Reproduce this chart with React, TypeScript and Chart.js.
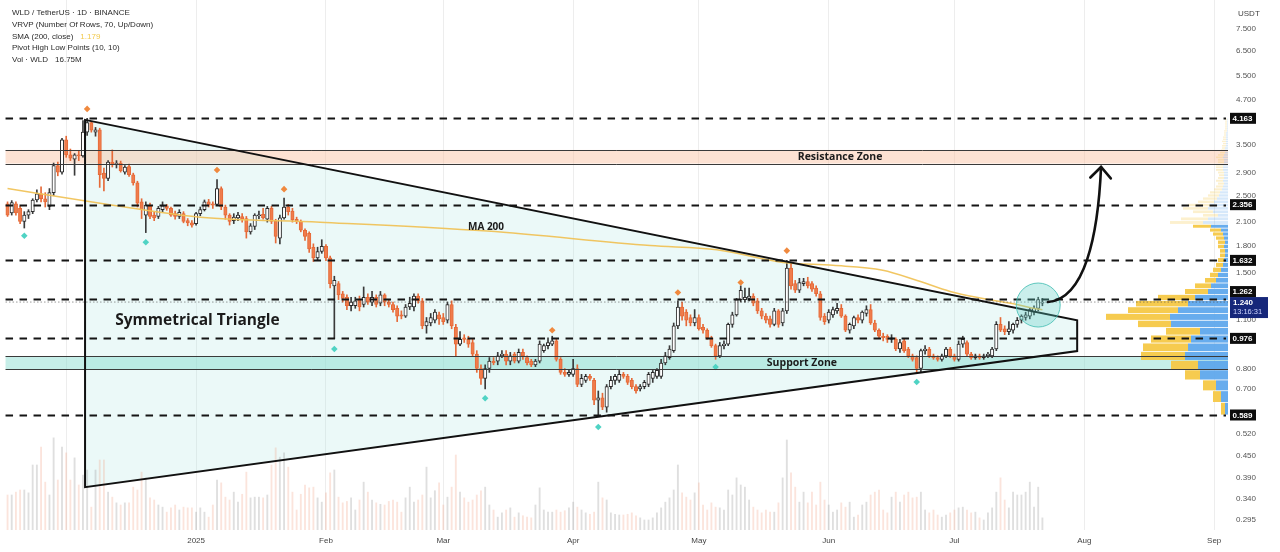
import React, { useEffect, useRef } from "react";
import { Chart, registerables } from "chart.js";

Chart.register(...registerables);

// ---------- DATA ----------
// day index relative to 1 Jan 2025; first candle = 17 Nov 2024
const START_DAY = -45;

// [open, high, low, close] per daily candle (WLD/USDT)
const OHLC: [number, number, number, number][] = [
  [2.37,2.40,2.18,2.20],[2.23,2.42,2.20,2.39],[2.37,2.40,2.20,2.23],[2.30,2.33,2.08,2.11],[2.11,2.25,2.02,2.20],[2.20,2.28,2.15,2.25],[2.25,2.45,2.22,2.43],[2.43,2.60,2.40,2.53],[2.53,2.65,2.40,2.45],[2.45,2.55,2.32,2.40],
  [2.33,2.62,2.28,2.55],[2.55,3.10,2.50,3.05],[3.05,3.12,2.85,2.92],[2.92,3.65,2.88,3.61],[3.61,3.70,3.22,3.27],[3.27,3.40,3.15,3.20],[3.18,3.30,2.86,3.27],[3.27,3.35,3.15,3.25],[3.25,4.10,3.22,3.80],[3.80,4.163,3.72,4.05],
  [4.05,4.08,3.80,3.85],[3.80,3.92,3.70,3.86],[3.86,3.90,2.64,2.87],[2.90,3.00,2.58,2.80],[2.80,3.15,2.76,3.12],[3.12,3.38,3.02,3.08],[3.08,3.15,3.00,3.10],[3.10,3.14,2.92,2.95],[2.92,3.05,2.88,3.02],[3.03,3.08,2.84,2.87],
  [2.87,2.90,2.68,2.72],[2.72,2.75,2.32,2.38],[2.40,2.45,2.15,2.28],[2.20,2.40,1.96,2.35],[2.33,2.38,2.15,2.18],[2.20,2.24,2.12,2.16],[2.18,2.33,2.15,2.30],[2.28,2.40,2.25,2.34],[2.34,2.36,2.27,2.30],[2.30,2.32,2.18,2.20],
  [2.22,2.26,2.14,2.18],[2.18,2.28,2.15,2.24],[2.22,2.25,2.09,2.11],[2.12,2.15,2.05,2.09],[2.09,2.12,2.03,2.06],[2.08,2.24,2.06,2.22],[2.22,2.32,2.19,2.28],[2.28,2.43,2.26,2.40],[2.40,2.44,2.32,2.35],[2.37,2.40,2.30,2.35],
  [2.36,2.78,2.34,2.62],[2.62,2.65,2.28,2.32],[2.32,2.35,2.14,2.20],[2.20,2.22,2.06,2.11],[2.12,2.22,2.08,2.17],[2.16,2.24,2.12,2.20],[2.18,2.22,2.10,2.14],[2.15,2.18,1.89,1.97],[1.97,2.08,1.94,2.05],[2.04,2.22,2.00,2.20],
  [2.19,2.26,2.15,2.20],[2.21,2.30,2.14,2.16],[2.14,2.33,2.10,2.30],[2.30,2.33,2.08,2.11],[2.11,2.14,1.83,1.91],[1.89,2.20,1.82,2.16],[2.16,2.46,2.14,2.32],[2.32,2.36,2.20,2.25],[2.26,2.30,2.10,2.13],[2.14,2.17,2.08,2.11],
  [2.11,2.13,1.97,1.99],[1.99,2.01,1.86,1.91],[1.95,1.97,1.72,1.76],[1.78,1.82,1.62,1.66],[1.66,1.78,1.63,1.73],[1.73,1.87,1.71,1.79],[1.79,1.81,1.63,1.66],[1.66,1.68,1.36,1.40],[1.38,1.47,0.976,1.43],[1.40,1.42,1.26,1.30],
  [1.31,1.33,1.24,1.27],[1.28,1.30,1.18,1.21],[1.21,1.28,1.17,1.24],[1.21,1.28,1.19,1.25],[1.26,1.29,1.17,1.20],[1.22,1.37,1.20,1.28],[1.28,1.31,1.22,1.24],[1.24,1.33,1.21,1.28],[1.28,1.30,1.20,1.22],[1.23,1.33,1.21,1.30],
  [1.30,1.31,1.21,1.24],[1.24,1.26,1.20,1.22],[1.22,1.24,1.16,1.18],[1.19,1.21,1.09,1.13],[1.14,1.17,1.11,1.13],[1.13,1.22,1.12,1.20],[1.20,1.28,1.18,1.23],[1.20,1.31,1.17,1.29],[1.29,1.31,1.23,1.25],[1.25,1.27,1.04,1.06],
  [1.06,1.12,1.01,1.09],[1.08,1.15,1.06,1.12],[1.10,1.18,1.08,1.16],[1.14,1.16,1.07,1.11],[1.12,1.15,1.07,1.09],[1.10,1.24,1.08,1.22],[1.22,1.25,1.04,1.06],[1.05,1.07,0.87,0.94],[0.94,1.02,0.93,0.97],[0.98,1.00,0.95,0.97],
  [0.97,0.99,0.92,0.94],[0.95,0.97,0.87,0.88],[0.88,0.90,0.78,0.80],[0.80,0.82,0.72,0.75],[0.75,0.82,0.70,0.80],[0.80,0.86,0.78,0.84],[0.84,0.86,0.82,0.83],[0.84,0.89,0.82,0.87],[0.87,0.90,0.86,0.88],[0.88,0.90,0.82,0.84],
  [0.84,0.89,0.82,0.87],[0.88,0.89,0.83,0.84],[0.84,0.91,0.83,0.89],[0.89,0.91,0.85,0.87],[0.86,0.87,0.82,0.83],[0.84,0.85,0.81,0.82],[0.82,0.85,0.81,0.84],[0.84,0.96,0.83,0.94],[0.90,0.94,0.89,0.93],[0.93,0.98,0.91,0.95],
  [0.94,0.99,0.93,0.96],[0.96,0.97,0.84,0.85],[0.85,0.86,0.77,0.78],[0.78,0.80,0.76,0.77],[0.77,0.79,0.76,0.78],[0.77,0.85,0.76,0.80],[0.80,0.82,0.71,0.72],[0.72,0.77,0.71,0.75],[0.74,0.77,0.73,0.76],[0.76,0.77,0.74,0.75],
  [0.74,0.75,0.63,0.65],[0.65,0.69,0.589,0.66],[0.66,0.68,0.61,0.62],[0.62,0.72,0.60,0.71],[0.71,0.76,0.70,0.74],[0.74,0.77,0.72,0.76],[0.74,0.79,0.73,0.77],[0.77,0.78,0.75,0.76],[0.76,0.77,0.72,0.73],[0.74,0.75,0.70,0.71],
  [0.71,0.72,0.68,0.69],[0.70,0.72,0.69,0.71],[0.71,0.74,0.70,0.73],[0.72,0.78,0.71,0.77],[0.75,0.79,0.73,0.78],[0.76,0.80,0.75,0.79],[0.76,0.85,0.75,0.83],[0.83,0.89,0.82,0.87],[0.86,0.93,0.85,0.91],[0.90,1.08,0.89,1.06],
  [1.06,1.25,1.04,1.20],[1.20,1.24,1.10,1.13],[1.16,1.18,1.06,1.10],[1.12,1.14,1.06,1.08],[1.08,1.18,1.06,1.12],[1.12,1.14,1.03,1.04],[1.05,1.07,1.01,1.03],[1.03,1.04,0.97,0.98],[0.98,0.99,0.92,0.93],[0.93,0.94,0.85,0.87],
  [0.87,0.95,0.86,0.93],[0.93,0.96,0.91,0.94],[0.94,1.08,0.93,1.07],[1.07,1.16,1.05,1.14],[1.14,1.27,1.13,1.26],[1.26,1.38,1.24,1.34],[1.26,1.36,1.24,1.28],[1.27,1.36,1.25,1.29],[1.29,1.31,1.21,1.23],[1.25,1.27,1.15,1.17],
  [1.17,1.19,1.11,1.13],[1.13,1.15,1.08,1.10],[1.11,1.13,1.05,1.07],[1.07,1.19,1.06,1.17],[1.17,1.18,1.05,1.07],[1.08,1.19,1.06,1.17],[1.17,1.632,1.15,1.55],[1.55,1.60,1.35,1.38],[1.40,1.43,1.32,1.34],[1.34,1.45,1.32,1.41],
  [1.40,1.45,1.38,1.42],[1.42,1.46,1.36,1.38],[1.40,1.42,1.33,1.35],[1.36,1.38,1.29,1.31],[1.31,1.33,1.10,1.12],[1.13,1.15,1.07,1.09],[1.10,1.18,1.08,1.16],[1.14,1.20,1.12,1.18],[1.17,1.23,1.15,1.19],[1.19,1.22,1.12,1.13],
  [1.13,1.14,1.02,1.03],[1.03,1.08,1.01,1.07],[1.06,1.13,1.04,1.12],[1.12,1.14,1.08,1.10],[1.10,1.17,1.08,1.16],[1.15,1.21,1.13,1.18],[1.18,1.22,1.07,1.08],[1.08,1.10,1.02,1.03],[1.03,1.04,0.98,0.99],[0.99,1.01,0.96,0.98],
  [0.99,1.00,0.95,0.97],[0.97,1.00,0.95,0.98],[0.97,0.98,0.90,0.91],[0.91,0.97,0.89,0.95],[0.96,0.97,0.89,0.90],[0.91,0.92,0.86,0.87],[0.87,0.88,0.84,0.85],[0.86,0.87,0.78,0.80],[0.80,0.91,0.78,0.90],[0.90,0.93,0.88,0.91],
  [0.91,0.92,0.86,0.87],[0.87,0.88,0.85,0.86],[0.86,0.87,0.84,0.85],[0.85,0.88,0.84,0.87],[0.87,0.92,0.86,0.91],[0.91,0.92,0.86,0.87],[0.87,0.88,0.84,0.85],[0.85,0.96,0.84,0.94],[0.94,0.99,0.92,0.97],[0.95,0.96,0.87,0.88],
  [0.88,0.89,0.85,0.86],[0.86,0.88,0.85,0.87],[0.87,0.88,0.85,0.86],[0.86,0.88,0.85,0.87],[0.87,0.89,0.86,0.88],[0.87,0.92,0.86,0.91],[0.91,1.09,0.90,1.07],[1.07,1.12,1.02,1.03],[1.04,1.06,1.00,1.02],[1.02,1.09,1.00,1.04],
  [1.03,1.08,1.01,1.07],[1.07,1.12,1.05,1.10],[1.10,1.14,1.08,1.13],[1.12,1.16,1.10,1.14],[1.13,1.19,1.11,1.18],[1.16,1.21,1.14,1.19],[1.19,1.28,1.17,1.26],[1.23,1.27,1.21,1.24],
];

// daily volume, millions of WLD
const VOLUME: number[] = [
  49,49,53,56,56,52,91,91,116,67, 49,129,70,116,108,70,101,63,77,84,
  32,84,98,98,53,46,38,35,38,38, 60,56,81,73,45,42,35,32,25,31,
  35,28,32,31,31,25,31,25,18,35, 70,66,46,42,53,39,50,81,45,46,
  46,45,49,91,115,102,108,88,53,28, 50,63,59,60,45,39,52,80,84,46,
  38,40,45,28,42,67,53,42,38,36, 35,40,42,39,25,45,60,39,42,49,
  88,45,55,66,35,46,60,105,53,45, 39,42,49,55,60,35,28,18,24,28,
  31,18,24,20,18,17,35,59,28,25, 25,28,25,27,31,39,32,28,24,22,
  25,67,45,42,24,22,21,21,22,24, 20,17,14,14,17,24,31,39,45,56,
  91,52,46,42,52,66,35,28,38,32, 31,28,56,49,73,63,60,42,32,28,
  24,28,25,25,38,73,126,80,60,39, 53,38,53,35,67,42,35,25,28,38,
  32,39,18,21,35,39,49,53,56,28, 24,46,53,39,49,53,45,46,53,28,
  24,28,21,18,21,24,28,31,32,28, 24,25,17,14,24,31,53,73,42,31,
  53,49,49,53,67,32,60,17,
];

// SMA(200) read at points [day, value]
const MA200: [number, number][] = [
  [-45, 2.62], [-22.9, 2.38], [1, 2.17], [29.6, 2.10], [69.5, 1.98], [108.4, 1.80],
  [124.3, 1.75], [140.1, 1.61], [152, 1.58], [163.9, 1.53], [172.1, 1.43], [180, 1.33],
  [187.8, 1.27], [195.9, 1.22], [199.8, 1.19], [202, 1.179],
];

// pivot markers [day, price]
const PIVOT_HIGHS: [number, number][] = [[-26, 4.43], [5, 2.96], [21, 2.61], [85, 1.03], [115, 1.32], [130, 1.41], [141, 1.74]];
const PIVOT_LOWS: [number, number][] = [[-41, 1.92], [-12, 1.84], [33, 0.91], [69, 0.658], [96, 0.544], [124, 0.808], [172, 0.732]];

// horizontal key levels (dashed)
const LEVELS = [4.163, 2.356, 1.632, 1.262, 0.976, 0.589];
const LAST_PRICE = 1.24;
const LAST_TIME = "13:16:31";

const RESISTANCE_ZONE: [number, number] = [3.09, 3.38];
const SUPPORT_ZONE: [number, number] = [0.796, 0.868];

// triangle polygon [day, price]
const TRIANGLE: [number, number][] = [[-26.5, 4.12], [210.3, 1.10], [210.3, 0.898], [-26.5, 0.366]];
const BREAKOUT: [number, number] = [201, 1.216];
const ARROW: [number, number][] = [[203.3, 1.24], [212.2, 1.265], [215.3, 1.93], [216, 3.02]];

// visible-range volume profile, 70 rows from 0.589 to 4.163
const VRVP_LOW = 0.589;
const VRVP_HIGH = 4.163;
const VRVP_UP: number[] = [
  3,7,12,28,30,43,40,37,28,57, 58,50,40,33,20,17,12,10,7,5,
  4,3,3,4,3,4,5,7,17,25, 20,10,15,20,18,14,11,9,8,6,
  5,4,5,4,4,4,5,5,5,4, 4,5,4,3,3,3,2,2,2,2,
  2,2,2,1,1,1,1,1,1,1,
];
const VRVP_DOWN: number[] = [
  4,8,13,15,27,44,45,40,34,33, 64,50,52,37,23,16,11,8,8,7,
  6,5,5,6,7,8,10,11,18,33, 27,15,20,25,22,16,14,11,10,8,
  7,6,7,6,5,6,7,7,7,6, 6,7,6,5,4,3,4,3,4,3,
  3,2,2,3,2,2,2,2,2,2,
];
const VALUE_AREA_TOP = 2.02;

const Y_TICKS = [7.5, 6.5, 5.5, 4.7, 3.5, 2.9, 2.5, 2.1, 1.8, 1.5, 1.1, 0.8, 0.7, 0.52, 0.45, 0.39, 0.34, 0.295];
const MONTH_TICKS = [-31, 0, 31, 59, 90, 120, 151, 181, 212, 243];
const MONTH_LABELS = ["", "2025", "Feb", "Mar", "Apr", "May", "Jun", "Jul", "Aug", "Sep"];
const X_RANGE: [number, number] = [-46.8, 246.3];
const Y_RANGE: [number, number] = [0.276, 9.08];

const LEGEND: [string, string][] = [
  ["WLD / TetherUS · 1D · BINANCE", ""],
  ["VRVP (Number Of Rows, 70, Up/Down)", ""],
  ["SMA (200, close)", "1.179"],
  ["Pivot High Low Points (10, 10)", ""],
  ["Vol · WLD", "16.75M"],
];

const LABELS = [
  { text: "Symmetrical Triangle", day: -19.3, price: 1.10, font: "bold 15.5px 'Open Sans'", align: "left" },
  { text: "MA 200", day: 69.2, price: 2.03, font: "bold 10px 'Open Sans'", align: "center" },
  { text: "Resistance Zone", day: 153.7, price: 3.23, font: "bold 10.5px 'Open Sans'", align: "center" },
  { text: "Support Zone", day: 144.6, price: 0.832, font: "bold 10.5px 'Open Sans'", align: "center" },
];

// ---------- STYLE ----------
const UP_FILL = "#ffffff";
const UP_LINE = "#2b2b2b";
const DOWN_FILL = "#ef7c4c";
const DOWN_LINE = "#e66a38";
const FONT = "'Liberation Sans', Arial, sans-serif";

const annoPlugin = {
  id: "wldAnno",
  beforeDatasetsDraw(chart: any) {
    const { ctx, chartArea: ca, scales } = chart;
    const x = scales.x, y = scales.y, xv = scales.xvp;
    const X = (d: number) => x.getPixelForValue(d);
    const Y = (p: number) => y.getPixelForValue(p);
    ctx.save();
    ctx.beginPath();
    ctx.rect(ca.left, ca.top, ca.width, ca.height);
    ctx.clip();
    // triangle fill
    ctx.beginPath();
    TRIANGLE.forEach(([d, p], i) => (i ? ctx.lineTo(X(d), Y(p)) : ctx.moveTo(X(d), Y(p))));
    ctx.closePath();
    ctx.fillStyle = "rgba(165,228,222,0.22)";
    ctx.fill();
    // zones fills
    const zl = X(START_DAY) - 2;
    ctx.fillStyle = "rgba(250,185,150,0.42)";
    ctx.fillRect(zl, Y(RESISTANCE_ZONE[1]), ca.right - zl, Y(RESISTANCE_ZONE[0]) - Y(RESISTANCE_ZONE[1]));
    ctx.fillStyle = "rgba(120,215,200,0.42)";
    ctx.fillRect(zl, Y(SUPPORT_ZONE[1]), ca.right - zl, Y(SUPPORT_ZONE[0]) - Y(SUPPORT_ZONE[1]));
    // volume profile
    const step = (VRVP_HIGH - VRVP_LOW) / VRVP_UP.length;
    const right = xv.getPixelForValue(0);
    for (let i = 0; i < VRVP_UP.length; i++) {
      const p0 = VRVP_LOW + i * step;
      const p1 = p0 + step;
      const yt = Y(p1), yb = Y(p0);
      const h = Math.max(0.6, yb - yt - 0.8);
      const xb = xv.getPixelForValue(VRVP_UP[i]);
      const xt = xv.getPixelForValue(VRVP_UP[i] + VRVP_DOWN[i]);
      const faded = p0 >= VALUE_AREA_TOP;
      ctx.fillStyle = faded ? "rgba(90,165,235,0.25)" : "rgba(90,165,235,0.92)";
      ctx.fillRect(xb, yt + 0.4, right - xb, h);
      ctx.fillStyle = faded ? "rgba(245,200,80,0.28)" : "rgba(245,200,70,0.95)";
      ctx.fillRect(xt, yt + 0.4, xb - xt, h);
    }
    ctx.restore();
  },
  afterDatasetsDraw(chart: any) {
    const { ctx, chartArea: ca, scales } = chart;
    const x = scales.x, y = scales.y;
    const X = (d: number) => x.getPixelForValue(d);
    const Y = (p: number) => y.getPixelForValue(p);
    ctx.save();
    ctx.beginPath();
    ctx.rect(ca.left, ca.top, ca.width, ca.height);
    ctx.clip();
    const zl = X(START_DAY) - 2;
    // current price dotted line
    ctx.setLineDash([1.5, 2]);
    ctx.strokeStyle = "rgba(70,70,70,0.55)";
    ctx.lineWidth = 1;
    ctx.beginPath();
    ctx.moveTo(zl, Y(LAST_PRICE));
    ctx.lineTo(ca.right, Y(LAST_PRICE));
    ctx.stroke();
    // dashed levels
    ctx.setLineDash([7.5, 6.5]);
    ctx.strokeStyle = "#151515";
    ctx.lineWidth = 1.8;
    LEVELS.forEach((lv) => {
      const yy = Math.round(Y(lv)) + 0.5;
      ctx.beginPath();
      ctx.moveTo(zl, yy);
      ctx.lineTo(ca.right - 2, yy);
      ctx.stroke();
    });
    ctx.setLineDash([]);
    // zone borders
    ctx.strokeStyle = "#3a3a3a";
    ctx.lineWidth = 1;
    [RESISTANCE_ZONE[0], RESISTANCE_ZONE[1], SUPPORT_ZONE[0], SUPPORT_ZONE[1]].forEach((p) => {
      const yy = Math.round(Y(p)) + 0.5;
      ctx.beginPath();
      ctx.moveTo(zl, yy);
      ctx.lineTo(ca.right, yy);
      ctx.stroke();
    });
    // triangle outline
    ctx.beginPath();
    TRIANGLE.forEach(([d, p], i) => (i ? ctx.lineTo(X(d), Y(p)) : ctx.moveTo(X(d), Y(p))));
    ctx.closePath();
    ctx.strokeStyle = "#111";
    ctx.lineWidth = 2;
    ctx.lineJoin = "miter";
    ctx.stroke();
    // breakout circle
    ctx.beginPath();
    ctx.arc(X(BREAKOUT[0]), Y(BREAKOUT[1]), 22, 0, Math.PI * 2);
    ctx.fillStyle = "rgba(90,205,195,0.32)";
    ctx.fill();
    ctx.strokeStyle = "rgba(70,190,180,0.85)";
    ctx.lineWidth = 1;
    ctx.stroke();
    // arrow
    const pts = ARROW.map(([d, p]) => [X(d), Y(p)]);
    ctx.beginPath();
    ctx.moveTo(pts[0][0], pts[0][1]);
    ctx.bezierCurveTo(pts[1][0], pts[1][1], pts[2][0], pts[2][1], pts[3][0], pts[3][1]);
    ctx.strokeStyle = "#111";
    ctx.lineWidth = 2.6;
    ctx.lineCap = "round";
    ctx.stroke();
    const ang = Math.atan2(pts[3][1] - pts[2][1], pts[3][0] - pts[2][0]);
    const L = 15;
    ctx.beginPath();
    ctx.moveTo(pts[3][0] - L * Math.cos(ang - 0.75), pts[3][1] - L * Math.sin(ang - 0.75));
    ctx.lineTo(pts[3][0], pts[3][1]);
    ctx.lineTo(pts[3][0] - L * Math.cos(ang + 0.75), pts[3][1] - L * Math.sin(ang + 0.75));
    ctx.stroke();
    // labels
    ctx.fillStyle = "#1b1b1b";
    ctx.textBaseline = "middle";
    LABELS.forEach((l) => {
      ctx.font = l.font;
      ctx.textAlign = l.align as CanvasTextAlign;
      ctx.fillText(l.text, X(l.day), Y(l.price));
    });
    ctx.restore();
  },
  afterDraw(chart: any) {
    const { ctx, chartArea: ca, scales } = chart;
    const y = scales.y;
    ctx.save();
    // legend
    ctx.textBaseline = "middle";
    ctx.textAlign = "left";
    ctx.font = `8px ${FONT}`;
    LEGEND.forEach(([a, b], i) => {
      const ly = 12.5 + i * 11.9;
      ctx.fillStyle = "#2a2a2a";
      ctx.fillText(a, 12, ly);
      if (b) {
        const w = ctx.measureText(a).width;
        ctx.fillStyle = i === 2 ? "#f2c94c" : "#2a2a2a";
        ctx.fillText(b, 12 + w + 7, ly);
      }
    });
    // USDT
    ctx.fillStyle = "#444";
    ctx.font = `8px ${FONT}`;
    ctx.fillText("USDT", ca.right + 10, 14);
    // current price box
    const cy = y.getPixelForValue(LAST_PRICE);
    const bx = ca.right + 2;
    ctx.fillStyle = "#16277a";
    ctx.fillRect(bx, cy - 5, 38, 21);
    ctx.fillStyle = "#ffffff";
    ctx.font = `bold 8px ${FONT}`;
    ctx.fillText(LAST_PRICE.toFixed(3), bx + 3, cy + 0.5);
    ctx.font = `7.5px ${FONT}`;
    ctx.fillStyle = "#cfd6ff";
    ctx.fillText(LAST_TIME, bx + 3, cy + 10);
    // level boxes
    LEVELS.forEach((lv) => {
      let ly = y.getPixelForValue(lv);
      if (ly > cy - 10.5 && ly < cy + 20.5) ly = lv > LAST_PRICE ? cy - 10.5 : cy + 21.5;
      ctx.fillStyle = "#0d0d0d";
      ctx.fillRect(bx, ly - 5.5, 26, 11);
      ctx.fillStyle = "#ffffff";
      ctx.font = `bold 8px ${FONT}`;
      ctx.fillText(lv.toFixed(3), bx + 2.5, ly + 0.5);
    });
    ctx.restore();
  },
};

const noPad = (s: any) => {
  s.paddingTop = 0;
  s.paddingBottom = 0;
  s.paddingLeft = 0;
  s.paddingRight = 0;
};

export default function App() {
  const ref = useRef<HTMLCanvasElement | null>(null);
  useEffect(() => {
    const canvas = ref.current;
    if (!canvas) return;
    const up = OHLC.map((c) => c[3] >= c[0]);
    const wickData = OHLC.map((c, i) => ({ x: START_DAY + i, y: [c[2], c[1]] }));
    const bodyData = OHLC.map((c, i) => ({ x: START_DAY + i, y: [Math.min(c[0], c[3]), Math.max(c[0], c[3])] }));
    const volData = VOLUME.map((v, i) => ({ x: START_DAY + i, y: v }));
    const chart = new Chart(canvas, {
      type: "bar",
      data: {
        datasets: [
          {
            type: "line",
            data: PIVOT_HIGHS.map(([d, p]) => ({ x: d, y: p })),
            showLine: false,
            pointStyle: "rectRot",
            pointRadius: 3.3,
            pointBackgroundColor: "#f0893e",
            pointBorderWidth: 0,
            order: 0,
          },
          {
            type: "line",
            data: PIVOT_LOWS.map(([d, p]) => ({ x: d, y: p })),
            showLine: false,
            pointStyle: "rectRot",
            pointRadius: 3.3,
            pointBackgroundColor: "#4fd3c4",
            pointBorderWidth: 0,
            order: 0,
          },
          {
            type: "line",
            data: MA200.map(([d, p]) => ({ x: d, y: p })),
            borderColor: "rgba(240,195,90,0.95)",
            borderWidth: 1.5,
            pointRadius: 0,
            cubicInterpolationMode: "monotone",
            order: 1,
          },
          {
            type: "bar",
            data: bodyData,
            backgroundColor: up.map((u) => (u ? UP_FILL : DOWN_FILL)),
            borderColor: up.map((u) => (u ? UP_LINE : DOWN_LINE)),
            borderWidth: 1,
            borderSkipped: false,
            barThickness: 3.4,
            minBarLength: 1,
            grouped: false,
            order: 2,
          },
          {
            type: "bar",
            data: wickData,
            backgroundColor: up.map((u) => (u ? "#3a3a3a" : DOWN_LINE)),
            borderWidth: 0,
            barThickness: 1,
            grouped: false,
            order: 3,
          },
          {
            type: "bar",
            data: volData,
            yAxisID: "yv",
            backgroundColor: up.map((u) => (u ? "rgba(150,150,150,0.3)" : "rgba(240,150,120,0.26)")),
            borderWidth: 0,
            barThickness: 1.2,
            grouped: false,
            order: 6,
          },
        ],
      } as any,
      options: {
        animation: false,
        responsive: false,
        devicePixelRatio: 1,
        events: [],
        layout: { padding: 0, autoPadding: false },
        plugins: { legend: { display: false }, tooltip: { enabled: false } },
        scales: {
          x: {
            type: "linear",
            position: "bottom",
            offset: false,
            min: X_RANGE[0],
            max: X_RANGE[1],
            afterBuildTicks: (s: any) => {
              s.ticks = MONTH_TICKS.map((v) => ({ value: v }));
            },
            afterFit: (s: any) => {
              s.height = 22;
              noPad(s);
            },
            ticks: {
              autoSkip: false,
              maxRotation: 0,
              padding: 6,
              color: "#444",
              font: { size: 8, family: FONT },
              callback: (v: any) => {
                const i = MONTH_TICKS.indexOf(Number(v));
                return i >= 0 ? MONTH_LABELS[i] : "";
              },
            },
            grid: { color: "rgba(0,0,0,0.07)", drawTicks: false, offset: false },
            border: { display: false },
          },
          y: {
            type: "logarithmic",
            position: "right",
            min: Y_RANGE[0],
            max: Y_RANGE[1],
            afterBuildTicks: (s: any) => {
              s.ticks = Y_TICKS.map((v) => ({ value: v }));
            },
            afterFit: (s: any) => {
              s.width = 52;
              noPad(s);
            },
            ticks: {
              autoSkip: false,
              padding: 8,
              color: "#555",
              font: { size: 8, family: FONT },
              callback: (v: any) => Number(v).toFixed(3),
            },
            grid: { display: false, drawTicks: false },
            border: { display: false },
          },
          yv: { type: "linear", display: false, min: 0, max: 742 },
          xvp: { type: "linear", display: false, offset: false, reverse: true, min: 0, max: 1228, grid: { offset: false } },
        },
      } as any,
      plugins: [annoPlugin],
    });
    return () => chart.destroy();
  }, []);
  return (
    <div style={{ position: "absolute", left: 0, top: 0, width: 1280, height: 552, background: "#fff" }}>
      <canvas ref={ref} width={1280} height={552} style={{ display: "block" }} />
    </div>
  );
}
